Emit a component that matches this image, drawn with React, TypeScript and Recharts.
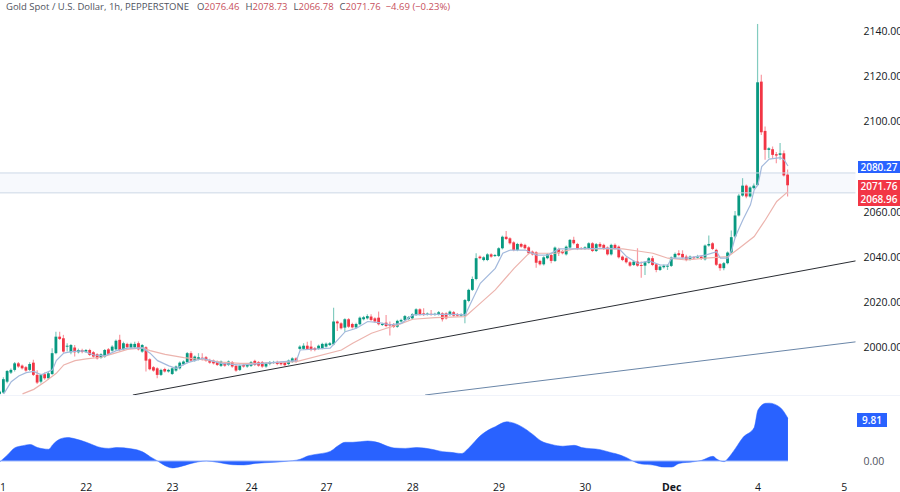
import { Area, Bar, ComposedChart, Line, ReferenceArea, ReferenceLine, XAxis, YAxis } from 'recharts';

const FONT = '"Open Sans", sans-serif';
const UP = '#089981';
const DOWN = '#f23645';

// hourly candles, ten per row
const opens = [
  1979.5, 1980.1, 1984.9, 1988.9, 1990.1, 1993, 1992, 1991.3, 1990.1, 1993.3,
  1987.9, 1984.9, 1988.2, 1986.4, 1988.3, 1997.5, 2004.8, 2004.1, 2000.4, 1997.9,
  2000, 1997.9, 1998.9, 1998.2, 1998.9, 1997.9, 1997, 1995.5, 1996, 1999.2,
  1998.6, 1999.2, 2003.4, 1999.2, 2001.6, 2000, 2000.1, 2001.9, 1998.2, 2000.1,
  1994.8, 1991.3, 1990.8, 1987.9, 1990.5, 1989.4, 1988.3, 1989.8, 1990.8, 1992.6,
  1993.5, 1997.5, 1994.2, 1994.8, 1995.5, 1995.7, 1994.5, 1994.2, 1993.8, 1991.9,
  1993, 1992.3, 1993.5, 1991.9, 1990.1, 1992.3, 1991.6, 1991.9, 1994.1, 1993.5,
  1993.5, 1991.6, 1992.7, 1993.2, 1993.6, 1993.3, 1993.5, 1992.7, 1993.6, 1995.2,
  1999.4, 1999.4, 2000.8, 2000.4, 1999.7, 1999.4, 1999.7, 2000.4, 2001.1, 2001.4,
  2011.5, 2010.7, 2008.8, 2012.5, 2010.4, 2008.9, 2010.3, 2012.5, 2012.9, 2013.7,
  2012.9, 2013.2, 2010, 2011, 2010.4, 2010.3, 2009.2, 2011.5, 2012.2, 2012.6,
  2012.9, 2014.4, 2016.9, 2015.1, 2014.7, 2014.9, 2014.6, 2014.7, 2015.1, 2015.1,
  2014.4, 2015.6, 2014.8, 2014.1, 2014.1, 2020.6, 2025.5, 2030.3, 2040.2, 2038.7,
  2038.7, 2041.2, 2040.5, 2040.5, 2043.9, 2049, 2048.3, 2046.5, 2043.1, 2045.8,
  2045.4, 2044.3, 2042.4, 2042.1, 2038.3, 2036.8, 2039.5, 2040.9, 2038.3, 2043.6,
  2042.7, 2041.2, 2044.2, 2047.6, 2045.8, 2044, 2043.6, 2043.9, 2046.1, 2042.7,
  2045.8, 2045.4, 2044.2, 2041.2, 2045.4, 2044.6, 2040.2, 2039.5, 2037.7, 2036.5,
  2038, 2036.5, 2036.2, 2037.5, 2039.5, 2036.8, 2034.3, 2035.5, 2035.8, 2036.1,
  2039.8, 2041.7, 2041.4, 2040.2, 2039, 2039.9, 2039.8, 2040.2, 2039, 2045.1,
  2046.1, 2043.2, 2036.9, 2035.1, 2037.3, 2042, 2049.1, 2058.4, 2067.2, 2071.6,
  2066.8, 2070.5, 2071.9, 2117.6, 2095.8, 2087.4, 2087.7, 2085.5, 2085.2, 2085.9,
  2076.46,
];

const closes = [
  1980.5, 1986, 1989.6, 1990.1, 1993, 1991.6, 1990.8, 1989.8, 1992.7, 1987.9,
  1984.5, 1987.9, 1986.4, 1988.6, 1997.5, 2004.8, 2003.8, 1998.2, 2000.8, 2001.1,
  1997.9, 1998.9, 1998, 1998.9, 1996.7, 1996, 1995.2, 1997, 1998.9, 1997.2,
  2000.4, 2003, 1998.9, 2001.9, 2000.1, 2001.6, 2001.6, 1999.2, 2001.1, 1994.2,
  1990.4, 1989.8, 1987.9, 1990.1, 1989.4, 1990.1, 1990.8, 1991.6, 1993.3, 1993.8,
  1997.5, 1994.2, 1996, 1995.7, 1994.8, 1994.2, 1993.3, 1993, 1992.3, 1993.8,
  1992, 1993.8, 1991.6, 1989.8, 1992, 1991.6, 1992.3, 1993.5, 1992.3, 1992,
  1991.6, 1993, 1993.5, 1993.6, 1992.7, 1992.6, 1992.2, 1994.2, 1995.2, 1993.8,
  2000.4, 2000.8, 1999.4, 1998.9, 1998.9, 2000.8, 2001.6, 2001.7, 2001.9, 2011.5,
  2010.7, 2008.5, 2012.5, 2009.2, 2008.9, 2010.4, 2013.2, 2013.4, 2013.9, 2012.2,
  2011.5, 2010.3, 2010.4, 2009.5, 2009.7, 2009.1, 2011.8, 2012.2, 2013.9, 2013.4,
  2014.7, 2016.9, 2014.7, 2014.4, 2015, 2014.6, 2014.9, 2015.6, 2012.5, 2012.9,
  2015.9, 2014.1, 2014.1, 2014.7, 2021, 2025.5, 2030.3, 2039.5, 2039.5, 2039.9,
  2041.2, 2040.2, 2040.9, 2043.9, 2049, 2048, 2046.1, 2043.1, 2045.8, 2044.6,
  2043.9, 2041.7, 2041.2, 2037.5, 2036.8, 2039.9, 2041.2, 2038.3, 2044.2, 2041.7,
  2041.7, 2044.6, 2047.6, 2046.1, 2043.6, 2043.7, 2044.3, 2046.1, 2042.7, 2045.7,
  2044.6, 2043.6, 2041.2, 2045.4, 2043.9, 2039.9, 2038.7, 2037.7, 2036.2, 2038,
  2036.2, 2036.2, 2037.7, 2039.5, 2036.5, 2034.3, 2035.8, 2036.2, 2036.2, 2039.8,
  2041.4, 2040.9, 2039.8, 2038.7, 2040.2, 2039.5, 2040.2, 2039.2, 2045.1, 2045.8,
  2043.6, 2036.6, 2035.1, 2037.3, 2042, 2048.8, 2058.4, 2067.2, 2071.6, 2066.8,
  2070.8, 2071.6, 2117.3, 2095.2, 2087.4, 2088.1, 2085.2, 2084.9, 2085.9, 2076.1,
  2071.76,
];

const highs = [
  1981, 1986.8, 1990.1, 1990.7, 1993.6, 1993.6, 1992.5, 1991.8, 1993.5, 1994.6,
  1990, 1988.4, 1988.9, 1989.2, 1999.7, 2007, 2007, 2005.6, 2001.9, 2001.6,
  2001.1, 1999.5, 1999.5, 1999.4, 1999.5, 1998.4, 1997.5, 1997.5, 1999.4, 1999.8,
  2001, 2003.5, 2005.6, 2002.6, 2002.1, 2002.1, 2002.6, 2002.7, 2001.6, 2000.6,
  1995.3, 1991.8, 1991.3, 1990.6, 1991, 1990.6, 1991.3, 1992.1, 1993.8, 1994.3,
  1998, 1998.3, 1996.5, 1997.5, 1997.5, 1996.2, 1995, 1994.7, 1994.3, 1994.3,
  1993.5, 1994.3, 1994, 1992.4, 1992.5, 1992.8, 1992.8, 1994, 1994.6, 1994,
  1994, 1993.5, 1994, 1994.1, 1994.1, 1993.8, 1994, 1994.7, 1995.7, 1995.7,
  2001, 2001.9, 2002.6, 2003, 2000.2, 2001.3, 2002.1, 2002.2, 2002.4, 2017.6,
  2012, 2011.2, 2013, 2013, 2010.9, 2010.9, 2013.7, 2014, 2014.7, 2014.7,
  2013.4, 2015.9, 2010.9, 2014.4, 2011.5, 2010.8, 2012.3, 2012.7, 2014.4, 2013.9,
  2015.2, 2017.4, 2017.4, 2017.4, 2015.5, 2016.6, 2015.4, 2016.1, 2015.6, 2015.6,
  2016.4, 2016.1, 2015.3, 2015.2, 2021.5, 2026, 2031.4, 2041.7, 2040.7, 2040.4,
  2041.7, 2041.7, 2041.4, 2044.4, 2049.5, 2051.5, 2048.8, 2047, 2046.3, 2046.3,
  2045.9, 2044.8, 2042.9, 2042.6, 2038.8, 2040.4, 2041.7, 2041.4, 2044.7, 2044.1,
  2043.2, 2045.1, 2048, 2049, 2046.3, 2044.5, 2044.8, 2046.6, 2046.6, 2046.2,
  2046.6, 2045.9, 2044.7, 2045.9, 2046, 2045.1, 2040.7, 2040, 2038.2, 2038.5,
  2043.9, 2038, 2038.2, 2040, 2040.5, 2037.3, 2036.3, 2036.7, 2036.8, 2040.3,
  2042, 2043, 2043, 2041, 2040.7, 2040.4, 2041, 2040.7, 2045.6, 2049.5,
  2046.6, 2043.7, 2037.4, 2037.8, 2042.5, 2051.7, 2060.4, 2068, 2074.9, 2072.1,
  2071.3, 2072.5, 2143.1, 2120.6, 2097.7, 2088.6, 2088.9, 2086.5, 2090.4, 2087.1,
  2078.73,
];

const lows = [
  1979, 1979.5, 1984.2, 1988.3, 1989.4, 1991.1, 1990.3, 1989.3, 1989.6, 1987.4,
  1983.9, 1984.1, 1985.8, 1985.9, 1987.8, 1997, 2003.3, 1997.7, 1998.2, 1997,
  1996, 1997.4, 1997.5, 1997.7, 1996.2, 1995.5, 1994.7, 1995, 1995.5, 1996.7,
  1998.1, 1998.7, 1998.4, 1998.6, 1999.6, 1999.5, 1999.6, 1998.7, 1997.7, 1989.4,
  1989.9, 1989.3, 1986.4, 1987.4, 1988.9, 1988.9, 1987.8, 1989.3, 1990.3, 1992.1,
  1993, 1993.7, 1993.7, 1994.3, 1994.3, 1993.7, 1992.8, 1992.5, 1991.8, 1991.4,
  1991.5, 1991.8, 1991.1, 1989.3, 1989.6, 1991.1, 1991.1, 1991.4, 1991.8, 1991.5,
  1991.1, 1991.1, 1992.2, 1992.7, 1992.2, 1992.1, 1991.7, 1992.2, 1993.1, 1993.3,
  1999, 1999, 1999, 1998.4, 1998.4, 1999, 1999.2, 2000, 2000.7, 2001,
  2007.3, 2008, 2007, 2008.7, 2008.4, 2008.4, 2009.8, 2012, 2012.4, 2011.7,
  2011, 2009.8, 2009.5, 2009, 2005.3, 2008.6, 2008.7, 2011, 2011.7, 2012.1,
  2012.4, 2013.9, 2014.2, 2013.9, 2014.2, 2014.1, 2014.1, 2014.2, 2011.5, 2012.4,
  2013.9, 2013.6, 2013.6, 2013.6, 2010.7, 2020, 2025, 2029.8, 2039, 2038.2,
  2038.2, 2039.7, 2040, 2040, 2043.4, 2047.5, 2045.6, 2042.6, 2042.6, 2044.1,
  2043.4, 2041.2, 2040.7, 2035.3, 2036.3, 2036.3, 2039, 2037.3, 2037.8, 2040.5,
  2041.2, 2040.7, 2043.7, 2045.6, 2043.1, 2043.2, 2043.1, 2043.4, 2042.2, 2042.2,
  2044.1, 2043.1, 2040.7, 2040.7, 2043.4, 2039.4, 2038.2, 2037.2, 2035.7, 2036,
  2035.7, 2030.9, 2032.1, 2037, 2036, 2033.3, 2033.8, 2035, 2034.3, 2035.6,
  2039.3, 2040.4, 2039.3, 2038.2, 2038.5, 2039, 2039.3, 2038.7, 2038.5, 2044.6,
  2043.1, 2036.1, 2034, 2034.2, 2036.8, 2041.5, 2048.6, 2057.9, 2066.7, 2066,
  2066.3, 2070, 2071.4, 2094, 2083, 2083.7, 2083.7, 2081.5, 2083, 2075.6,
  2066.78,
];

// moving averages, read at the candles where the line could be made out
const fastIndex = [
  1, 3, 5, 7, 9, 11, 14, 15, 17, 19, 22, 25, 28, 31, 34, 38, 40, 42, 45, 47, 50, 54, 59, 64, 70, 79,
  80, 88, 90, 92, 95, 98, 101, 104, 107, 110, 114, 121, 124, 125, 128, 132, 134, 136, 140, 143, 146,
  149, 153, 162, 165, 167, 170, 173, 176, 178, 179, 183, 188, 191, 192, 194, 195, 196, 198, 200, 201,
  202, 203, 205, 208, 209, 210,
];
const fastValues = [
  1979.5, 1984.9, 1987.4, 1988.9, 1989.4, 1987.9, 1990.1, 1994.2, 1997.5, 1998.2, 1998.5, 1996.7, 1996.3,
  1998.6, 1999.7, 1999.8, 1997.5, 1994.2, 1991.9, 1990.8, 1993.3, 1995.2, 1993, 1992.2, 1993, 1994.2,
  1998.9, 1999.7, 2003.4, 2007, 2008.5, 2011.5, 2011, 2010, 2010.7, 2014.4, 2014.7, 2014.7, 2014.4, 2018,
  2028.4, 2035, 2041.7, 2043.1, 2043.1, 2040.9, 2040.9,
  2043.6, 2043.6, 2043.9, 2043.6, 2040.2, 2037.2, 2038.3, 2036.5, 2036.5, 2039.5, 2039.5, 2040.9, 2042.4,
  2039.5, 2039.5, 2043.1, 2049.1, 2056.5, 2063.1, 2069.7,
  2072, 2080, 2083.3, 2084, 2083, 2080.27,
];
const slowIndex = [
  6, 9, 12, 15, 17, 20, 23, 27, 30, 34, 38, 40, 44, 49, 53, 59, 64, 69, 79,
  91, 94, 99, 103, 106, 110, 116, 124, 127, 132, 137, 141, 145,
  148, 153, 162, 166, 170, 174, 178, 183, 188, 191, 194, 197, 201, 204, 207, 210,
];
const slowValues = [
  1979.5, 1981.5, 1984.9, 1988.6, 1992.3, 1994.2, 1995, 1995.7, 1997.2, 1999.2, 1999.8, 1998.6, 1997, 1995.5,
  1994.8, 1993.5, 1993, 1993, 1993.8,
  1998.9, 2001.9, 2006.3, 2008.5, 2010, 2012.5, 2013.2, 2013.7, 2018.1, 2025.5, 2035, 2041.7, 2041.7,
  2041.7, 2043.6, 2043.6, 2043.6, 2042.7, 2041.7, 2039.5, 2038.7, 2039.5, 2039.9, 2040.2, 2043.9, 2049.1,
  2056.5, 2064.6, 2068.96,
];

// lower pane
const oscIndex = [
  0, 2, 4, 6, 8, 10, 13, 14, 16, 18, 20, 23, 27, 29, 31, 35, 38, 40, 42, 44, 46, 48, 51, 55, 58, 62, 65, 68,
  73, 76, 80, 82, 84, 88, 90, 92, 94, 98, 100, 105, 108, 111, 115, 118, 120, 123, 125, 128, 131, 132, 135,
  137, 139, 142, 144, 147, 150, 153, 155, 160, 163, 164, 167, 169, 171, 174, 177, 179, 181, 185, 187, 190,
  191, 193, 194, 196, 198, 201, 202, 204, 205, 208, 210,
];
const oscValues = [
  -0.15, 1.4, 3.06, 3.5, 3.8, 3.1, 2.7, 3.7, 5.05, 5.4, 5.1, 4.3, 3.06, 2.9, 3.1, 2.8, 2.1, 1, 0, -1.07, -1.6,
  -1.3, -0.55, 0, -0.3, -0.85, -0.9, -0.55, -0.3, -0.1, 0.4, 1.15, 1.5, 2.2, 3.45, 4.3, 4.3, 4.6, 4.4, 3, 2.9,
  3.1, 2.7, 2.15, 2, 1.7, 3.06, 5.8, 7.5, 7.9, 9, 8.7, 7.9, 6.1, 4.7, 3.8, 3.4, 3.6, 3.1, 2.6, 1.9, 1.7, 0.77,
  -0.15, -0.7, -0.9, -1.4, -1.4, -0.55, -0.15, 0.15, 1.07, 0.46, -0.15, 0.6, 2.9, 5.4, 7.7, 11.7, 13.25, 13.3,
  12.25, 9.81,
];

const priceTicks = [2000, 2020, 2040, 2060, 2100, 2120, 2140];
const dayTicks = [0, 23, 46, 67, 87, 110, 133, 156, 179, 202, 225];
const dayLabels = ['21', '22', '23', '24', '27', '28', '29', '30', 'Dec', '4', '5'];

// the trend lines are given as [candle index, price] ends
const blackTrend = [[35.4, 1979], [228, 2038.3]];
const blueTrend = [[113.3, 1979], [228, 2002.5]];
const rangeTop = 2077.2;
const rangeBottom = 2068.4;

const lookup = (idx: number[], vals: number[]) => new Map(idx.map((x, n) => [x, vals[n]]));
const fastMap = lookup(fastIndex, fastValues);
const slowMap = lookup(slowIndex, slowValues);
const oscMap = lookup(oscIndex, oscValues);

const candles = opens.map((open, i) => ({
  i,
  open,
  close: closes[i],
  high: highs[i],
  low: lows[i],
  fast: fastMap.get(i) ?? null,
  slow: slowMap.get(i) ?? null,
}));
const osc = opens.map((_, i) => ({ i, value: oscMap.get(i) ?? null }));

function Candle(props: any) {
  const { x, y, width, height, payload } = props;
  const { open, close, high, low } = payload;
  const toY = (v: number) => y + ((high - v) / (high - low)) * height;
  const color = close >= open ? UP : DOWN;
  const mid = x + width / 2;
  const top = toY(Math.max(open, close));
  const bottom = toY(Math.min(open, close));
  return (
    <g>
      <line x1={mid} x2={mid} y1={y} y2={y + height} stroke={color} strokeWidth={1.2} strokeOpacity={0.5} />
      <rect x={mid - 1.4} y={top} width={2.8} height={Math.max(bottom - top, 1)} fill={color} />
    </g>
  );
}

function DayTick(props: any) {
  const { x, y, index } = props;
  const label = dayLabels[index];
  return (
    <text x={x} y={y} dy={13} textAnchor="middle" fontFamily={FONT} fontSize={10.5} fill="#131722" fontWeight={label === 'Dec' ? 700 : 400}>
      {label}
    </text>
  );
}

const tagStyle = (left: number, top: number, width: number, height: number, background: string): React.CSSProperties => ({
  position: 'absolute',
  left,
  top,
  width,
  height,
  lineHeight: height + 'px',
  background,
  color: '#fff',
  fontSize: 10,
  fontWeight: 600,
  textAlign: 'center',
});

export default function App() {
  const axisTick = { fontFamily: FONT, fontSize: 10.5, fill: '#131722' };
  return (
    <div style={{ position: 'absolute', left: 0, top: 0, width: 900, height: 492, background: '#fff', overflow: 'hidden', fontFamily: FONT }}>
      <ComposedChart width={900} height={395} data={candles} margin={{ top: 0, right: 0, left: 0, bottom: 0 }}>
        <XAxis dataKey="i" type="number" domain={[0, 228]} allowDataOverflow hide />
        <YAxis
          orientation="right"
          width={44.5}
          domain={[1979, 2153.7]}
          allowDataOverflow
          ticks={priceTicks}
          tickFormatter={(v: number) => v.toFixed(2)}
          tick={axisTick}
          tickLine={false}
          axisLine={false}
          tickMargin={2}
        />
        <ReferenceArea y1={rangeBottom} y2={rangeTop} fill="#f7f9fd" fillOpacity={1} stroke="none" />
        <ReferenceLine y={rangeTop} stroke="#ccd8e7" strokeWidth={1} />
        <ReferenceLine y={rangeBottom} stroke="#ccd8e7" strokeWidth={1} />
        <ReferenceLine segment={blueTrend.map(([x, y]) => ({ x, y }))} stroke="#6a86a8" strokeWidth={1} />
        <ReferenceLine segment={blackTrend.map(([x, y]) => ({ x, y }))} stroke="#2a2d33" strokeWidth={1} />
        <Bar dataKey={(d: any) => [d.low, d.high]} barSize={3} shape={<Candle />} isAnimationActive={false} />
        <Line dataKey="slow" stroke="#ecb4ae" strokeWidth={1.2} dot={false} connectNulls isAnimationActive={false} />
        <Line dataKey="fast" stroke="#a3b9dc" strokeWidth={1.2} dot={false} connectNulls isAnimationActive={false} />
      </ComposedChart>
      <div style={{ borderTop: '1px solid #f0f3fa', position: 'absolute', left: 0, top: 395, width: 900 }} />
      <div style={{ position: 'absolute', left: 0, top: 395 }}>
        <ComposedChart width={900} height={97} data={osc} margin={{ top: 0, right: 0, left: 0, bottom: 0 }}>
          <XAxis
            dataKey="i"
            type="number"
            domain={[0, 228]}
            allowDataOverflow
            ticks={dayTicks}
            interval={0}
            tick={<DayTick />}
            tickLine={false}
            axisLine={false}
            height={22}
          />
          <YAxis
            orientation="right"
            width={44.5}
            domain={[-2.07, 15.17]}
            allowDataOverflow
            ticks={[0]}
            tickFormatter={(v: number) => v.toFixed(2)}
            tick={{ ...axisTick, fill: '#50535e' }}
            tickLine={false}
            axisLine={false}
            tickMargin={2}
          />
          <Area
            dataKey="value"
            type="monotone"
            baseValue={0}
            stroke="#2962ff"
            strokeWidth={0.5}
            fill="#2962ff"
            fillOpacity={1}
            connectNulls
            dot={false}
            isAnimationActive={false}
          />
          <ReferenceLine segment={[{ x: 0, y: 0 }, { x: 210, y: 0 }]} stroke="#9db8fb" strokeWidth={1} />
        </ComposedChart>
      </div>
      <div style={{ position: 'absolute', left: 6, top: 0, height: 14, lineHeight: '14px', fontSize: 9.5, color: '#50535e', whiteSpace: 'nowrap' }}>
        Gold Spot / U.S. Dollar, 1h, PEPPERSTONE
        <span style={{ marginLeft: 8 }}>O<span style={{ color: '#c7505c' }}>2076.46</span></span>
        <span style={{ marginLeft: 6 }}>H<span style={{ color: '#c7505c' }}>2078.73</span></span>
        <span style={{ marginLeft: 6 }}>L<span style={{ color: '#c7505c' }}>2066.78</span></span>
        <span style={{ marginLeft: 6 }}>C<span style={{ color: '#c7505c' }}>2071.76</span></span>
        <span style={{ marginLeft: 5, color: '#c7505c' }}>−4.69 (−0.23%)</span>
      </div>
      <div style={tagStyle(858, 161, 42, 12, '#2962ff')}>2080.27</div>
      <div style={tagStyle(858, 180, 42, 13, DOWN)}>2071.76</div>
      <div style={tagStyle(858, 193, 42, 13, DOWN)}>2068.96</div>
      <div style={tagStyle(857, 413, 30, 14, '#2962ff')}>9.81</div>
    </div>
  );
}
